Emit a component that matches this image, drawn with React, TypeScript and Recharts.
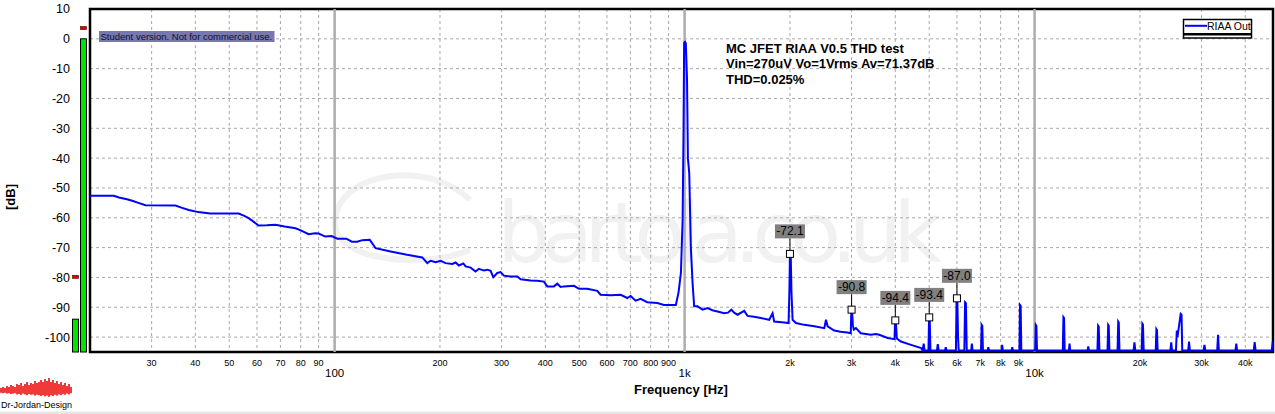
import React from "react";
import {
  ComposedChart,
  Line,
  Scatter,
  XAxis,
  YAxis,
  CartesianGrid,
  ReferenceLine,
  ReferenceArea,
} from "recharts";

const WIDTH = 1275;
const HEIGHT = 414;
const FONT = "'Liberation Sans', Arial, sans-serif";

// plot frame (used only for the decorations drawn outside recharts)
const PLOT_TOP = 9;
const PLOT_H = 343;

const freqDomain = [20, 48000];
const DB_MIN = -105;
const DB_MAX = 10;
const dbTicks = [-100, -90, -80, -70, -60, -50, -40, -30, -20, -10, 0, 10];

const minorFreqs = [
  30, 40, 50, 60, 70, 80, 90, 200, 300, 400, 500, 600, 700, 800, 900, 2000,
  3000, 4000, 5000, 6000, 7000, 8000, 9000, 20000, 30000, 40000,
];
const minorLabels = [
  "30", "40", "50", "60", "70", "80", "90", "200", "300", "400", "500", "600",
  "700", "800", "900", "2k", "3k", "4k", "5k", "6k", "7k", "8k", "9k", "20k",
  "30k", "40k",
];
const decadeFreqs = [100, 1000, 10000];
const decadeLabels = ["100", "1k", "10k"];

// spectrum [Hz, dB]
const noiseBelow1k: [number, number][] = [
  [20, -52.6], [23.4, -52.6], [24.2, -53.2], [25.5, -53.8], [26.4, -54.3],
  [27.5, -55.0], [28.8, -55.8], [35.1, -55.9], [36.5, -56.6], [38.3, -57.4],
  [40.8, -58.1], [44.1, -58.6], [53.2, -58.6], [55.0, -59.3], [56.8, -60.1],
  [58.5, -61.2], [60.6, -62.6], [64.0, -62.5], [67.7, -62.3], [72.0, -62.9],
  [77.3, -63.5], [80.0, -64.2], [84.3, -65.5], [88.0, -65.2], [90.0, -65.3],
  [94.0, -66.3], [98.0, -66.1], [101.8, -67.0], [108, -67.0], [112, -68.0],
  [116, -68.0], [120, -67.5], [126, -67.4], [131, -70.2], [144.5, -71.3],
  [161, -72.4], [178, -73.3], [184, -75.2], [188, -74.4], [194.4, -74.9],
  [200.9, -74.4], [207.5, -75.2], [216.9, -75.5], [221.7, -75.0], [226.6, -76.0],
  [233.2, -75.3], [236.8, -76.3], [244.7, -76.7], [252.8, -78.0], [258.4, -77.1],
  [267.1, -77.7], [273.1, -77.4], [279.1, -77.8], [284, -79.9], [291.6, -78.5],
  [298, -78.2], [304.6, -79.4], [318.4, -79.7], [332.7, -79.7], [340, -80.6],
  [363, -81.0], [379.5, -81.1], [396.3, -81.4], [405.2, -83.0], [423.3, -83.0],
  [432.7, -82.1], [442.3, -83.2], [452.1, -83.0], [482.8, -82.8], [499, -83.8],
  [527, -83.8], [563, -84.5], [575.4, -85.8], [614.7, -86.0], [656.4, -85.8],
  [685.8, -86.9], [701, -86.2], [724.4, -87.8], [748.6, -87.2], [782.3, -88.3],
  [835.6, -88.6], [873, -89.2], [932, -89.2], [944, -89.2],
];

const fundamental: [number, number][] = [
  [961, -85.0], [976, -78.5], [987, -60.7], [993, -30.5], [997, -1.3],
  [1003, -1.0], [1008, -1.5], [1016, -13.5], [1022, -40.0], [1031, -45.0],
  [1042, -70.0], [1054, -82.0], [1065, -89.7],
];

const band1kTo5k: [number, number][] = [
  [1089, -89.7], [1126, -90.8], [1163, -90.3], [1200, -91.0], [1242, -91.4],
  [1297, -92.0], [1330, -91.8], [1360, -90.8], [1385, -91.8], [1417, -92.5],
  [1480, -91.2], [1513, -92.9], [1580, -93.2], [1651, -93.6], [1745, -94.2],
  [1784, -92.0], [1803, -94.8], [1925, -95.1], [1982, -95.3], [1993, -84.0],
  [2000, -72.1], [2010, -72.4], [2020, -85.0], [2035, -94.2], [2080, -95.3],
  [2197, -95.9], [2348, -96.4], [2507, -97.0], [2535, -94.2], [2563, -96.4],
  [2675, -97.8], [2793, -98.2], [2917, -98.5], [2984, -98.7], [2995, -90.8],
  [3010, -91.2], [3025, -96.0], [3045, -97.5], [3087, -97.0], [3188, -98.7],
  [3408, -99.2], [3520, -99.0], [3597, -99.2], [3805, -100.3], [3979, -100.7],
  [3995, -94.4], [4015, -94.8], [4040, -100.5], [4151, -101.5], [4436, -102.6],
  [4741, -103.7], [4790, -104.5], [4821, -102.2], [4850, -104.5], [4975, -104.5],
  [4995, -93.4], [5015, -93.6], [5040, -104.5],
];

const bandAbove5k: [number, number][] = [
  [5260, -104.5], [5290, -102.4], [5320, -104.5],
  [5545, -104.5], [5575, -103.4], [5605, -104.5],
  [5960, -104.5], [5985, -87.0], [6015, -87.3], [6045, -100.0], [6070, -104.5],
  [6300, -104.5], [6330, -88.3], [6365, -88.6], [6400, -104.5],
  [6590, -104.5], [6619, -102.2], [6650, -104.5],
  [7030, -104.5], [7060, -95.9], [7090, -96.2], [7120, -104.5],
  [7345, -104.5], [7376, -103.4], [7410, -104.5],
  [8040, -104.5], [8078, -102.6], [8115, -104.5],
  [8595, -104.5], [8634, -103.4], [8675, -104.5],
  [9050, -104.5], [9085, -89.2], [9125, -89.5], [9165, -104.5],
  [10040, -104.5], [10080, -95.9], [10120, -96.2], [10160, -104.5],
  [12040, -104.5], [12090, -93.3], [12140, -93.6], [12190, -104.5],
  [12530, -104.5], [12588, -102.2], [12640, -104.5],
  [14170, -104.5], [14236, -103.1], [14300, -104.5],
  [15120, -104.5], [15190, -96.2], [15250, -96.5], [15320, -104.5],
  [16160, -104.5], [16230, -95.9], [16290, -96.2], [16360, -104.5],
  [17260, -104.5], [17340, -94.8], [17400, -95.1], [17480, -104.5],
  [19180, -104.5], [19289, -101.8], [19400, -104.5],
  [20230, -104.5], [20320, -95.5], [20400, -95.8], [20500, -104.5],
  [22190, -104.5], [22290, -97.3], [22370, -97.6], [22470, -104.5],
  [24440, -104.5], [24571, -101.8], [24700, -104.5],
  [25350, -104.5], [25494, -97.8], [25600, -100.0], [26150, -92.2], [26300, -92.5], [26420, -104.5],
  [27480, -104.5], [27629, -101.5], [27780, -104.5],
  [30400, -104.5], [30577, -102.6], [30750, -104.5],
  [33250, -104.5], [33435, -99.2], [33620, -104.5],
  [37500, -104.5], [37703, -102.2], [37900, -104.5],
  [42300, -104.5], [42545, -101.7], [42800, -104.5],
  [47600, -104.5], [47900, -101.8], [48000, -101.8],
];

// marked harmonics
const harmonicFreqs = [2000, 3000, 4000, 5000, 6000];
const harmonicLevels = [-72.1, -90.8, -94.4, -93.4, -87.0];

// level meters at the left of the plot
const meterLevels = [-94, 0];
const meterPeaks = [-79.8, 3.6];

const logoAmp = [
  2, 3, 2, 4, 3, 5, 4, 3, 6, 5, 7, 4, 6, 8, 5, 7, 6, 9, 7, 8, 10, 8, 11, 9, 12,
  8, 10, 7, 9, 6, 8, 5, 7, 4, 6, 3,
];

const spectrum = [...noiseBelow1k, ...fundamental, ...band1kTo5k, ...bandAbove5k].map(
  ([f, db]) => ({ f, db })
);
const markers = harmonicFreqs.map((f, i) => ({ f, db: harmonicLevels[i] }));
const freqTicks = [...minorFreqs, ...decadeFreqs].sort((a, b) => a - b);

const yPx = (db: number) => PLOT_TOP + ((DB_MAX - db) / (DB_MAX - DB_MIN)) * PLOT_H;

const FreqTick = (props: any) => {
  const { x, y, payload } = props;
  const v = payload.value;
  const di = decadeFreqs.indexOf(v);
  if (di >= 0) {
    return (
      <text x={x} y={y + 24.5} textAnchor="middle" fontSize={11.5} fill="#000" fontFamily={FONT}>
        {decadeLabels[di]}
      </text>
    );
  }
  const mi = minorFreqs.indexOf(v);
  return (
    <text x={x} y={y + 13.5} textAnchor="middle" fontSize={9} fill="#000" fontFamily={FONT}>
      {minorLabels[mi]}
    </text>
  );
};

const renderMarker = (props: any) => {
  const { cx, cy, payload } = props;
  if (cx == null || cy == null) return <g />;
  return (
    <g>
      <line x1={cx} x2={cx} y1={cy - 15.5} y2={cy - 3.5} stroke="#000" strokeWidth={1} />
      <rect x={cx - 15} y={cy - 29.5} width={30} height={14} fill="#808080" />
      <text x={cx} y={cy - 18.5} textAnchor="middle" fontSize={12} fill="#000" fontFamily={FONT}>
        {payload.db.toFixed(1)}
      </text>
      <rect x={cx - 3.5} y={cy - 3.5} width={7} height={7} fill="#fff" stroke="#000" strokeWidth={1} />
    </g>
  );
};

export default function App() {
  return (
    <div style={{ position: "relative", width: WIDTH, height: HEIGHT, background: "#fff", fontFamily: FONT }}>
      <style>{`body{margin:0}`}</style>
      <svg width={WIDTH} height={HEIGHT} style={{ position: "absolute", left: 0, top: 0 }}>
        <text x={497} y={262} fontSize={84} fill="#f1f1f1" fontFamily="'DejaVu Sans', sans-serif" textLength={445}>
          bartola.co.uk
        </text>
        <path d="M 470 200 C 430 160, 340 170, 335 220 C 330 260, 420 270, 470 250" fill="none" stroke="#f1f1f1" strokeWidth={6} />
      </svg>
      <div style={{ position: "absolute", left: 0, top: 0 }}>
        <ComposedChart width={WIDTH} height={HEIGHT} margin={{ top: PLOT_TOP, right: 2, bottom: 0, left: 0 }}>
          <CartesianGrid stroke="#a9a9a9" strokeDasharray="3 3" />
          <XAxis
            dataKey="f"
            type="number"
            scale="log"
            domain={freqDomain}
            allowDataOverflow
            ticks={freqTicks}
            interval={0}
            tick={<FreqTick />}
            tickLine={false}
            axisLine={false}
            tickSize={0}
            tickMargin={0}
            height={62}
          />
          <YAxis
            type="number"
            domain={[DB_MIN, DB_MAX]}
            allowDataOverflow
            ticks={dbTicks}
            interval={0}
            tickLine={false}
            axisLine={false}
            tickSize={0}
            tickMargin={20}
            width={90}
            tick={{ fontSize: 12.5, fill: "#000", fontFamily: FONT }}
          />
          {decadeFreqs.map((f) => (
            <ReferenceLine key={f} x={f} stroke="#acacac" strokeWidth={2.5} />
          ))}
          <Line
            data={spectrum}
            dataKey="db"
            stroke="#0000ff"
            strokeWidth={2}
            dot={false}
            isAnimationActive={false}
          />
          <ReferenceArea
            x1={freqDomain[0]}
            x2={freqDomain[1]}
            y1={DB_MIN}
            y2={DB_MAX}
            fill="none"
            fillOpacity={0}
            stroke="#000"
            strokeWidth={2.5}
          />
          <Scatter data={markers} dataKey="db" shape={renderMarker} isAnimationActive={false} />
        </ComposedChart>
      </div>
      <svg width={WIDTH} height={HEIGHT} style={{ position: "absolute", left: 0, top: 0, pointerEvents: "none" }}>
        {/* level meters */}
        {meterLevels.map((lv, i) => (
          <rect
            key={"m" + i}
            x={72.5 + i * 8}
            y={yPx(lv)}
            width={6}
            height={PLOT_TOP + PLOT_H - yPx(lv)}
            fill="#00e400"
            stroke="#000"
            strokeWidth={1}
          />
        ))}
        {meterPeaks.map((pk, i) => (
          <rect
            key={"p" + i}
            x={72.5 + i * 8}
            y={yPx(pk) - 1.5}
            width={6}
            height={3}
            fill="#e00000"
            stroke="#400"
            strokeWidth={0.6}
          />
        ))}

        {/* axis titles */}
        <text
          x={15}
          y={197}
          transform="rotate(-90 15 197)"
          textAnchor="middle"
          fontSize={13}
          fontWeight="bold"
          fill="#000"
        >
          [dB]
        </text>
        <text x={681} y={394} textAnchor="middle" fontSize={13} fontWeight="bold" fill="#000">
          Frequency [Hz]
        </text>

        {/* student banner */}
        <rect x={99} y={31} width={175.5} height={11} fill="#7878b0" />
        <text x={100.5} y={39.8} fontSize={9.5} fill="#10102a">
          Student version. Not for commercial use.
        </text>

        {/* title block */}
        <text x={726} y={52.5} fontSize={13} fontWeight="bold" fill="#000">
          MC JFET RIAA V0.5 THD test
        </text>
        <text x={726} y={68} fontSize={13} fontWeight="bold" fill="#000">
          Vin=270uV Vo=1Vrms Av=71.37dB
        </text>
        <text x={726} y={84} fontSize={13} fontWeight="bold" fill="#000">
          THD=0.025%
        </text>

        {/* legend */}
        <rect x={1183.5} y={19.5} width={68} height={18.5} fill="#fff" stroke="#000" strokeWidth={1.5} />
        <line x1={1185} x2={1207} y1={25.8} y2={25.8} stroke="#0000ff" strokeWidth={2} />
        <text x={1207} y={29.5} fontSize={10.5} fill="#000">
          RIAA Out
        </text>
        <line x1={1183.5} x2={1251.5} y1={34.2} y2={34.2} stroke="#000" strokeWidth={2.5} />

        {/* logo */}
        {logoAmp.map((a, i) => (
          <rect key={"l" + i} x={i * 2} y={390 - a} width={2} height={a * 1.4 + 2} fill="#f03a3a" />
        ))}
        <text x={1} y={408.3} fontSize={9} fill="#000">
          Dr-Jordan-Design
        </text>
        <rect x={0} y={411.5} width={WIDTH} height={2.5} fill="#e6e6e6" />
      </svg>
    </div>
  );
}
